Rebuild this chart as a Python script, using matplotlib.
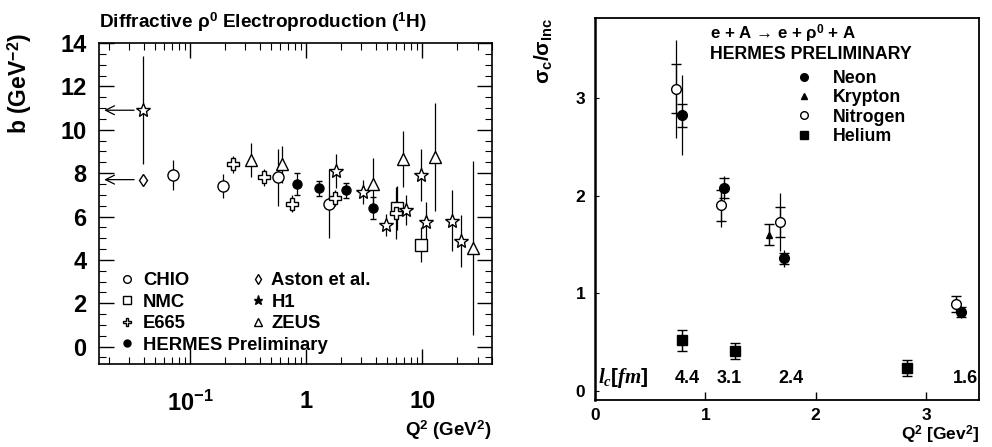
import matplotlib
matplotlib.use("Agg")
import matplotlib.pyplot as plt
import matplotlib.ticker as mticker
from matplotlib.lines import Line2D

plt.rcParams['font.family'] = ['Liberation Sans', 'DejaVu Sans']
plt.rcParams['font.weight'] = 'bold'
plt.rcParams['mathtext.fontset'] = 'custom'
plt.rcParams['mathtext.rm'] = 'Liberation Sans'
plt.rcParams['mathtext.bf'] = 'Liberation Sans:bold'
plt.rcParams['mathtext.it'] = 'Liberation Serif:italic'

# ---------------- left panel data: slope b vs Q^2 ----------------
chio_q2 = [0.071, 0.192, 0.570, 1.58]
chio_b = [7.9, 7.4, 7.8, 6.6]
chio_err = [0.7, 0.55, 1.3, 1.6]

nmc_q2 = [6.05, 9.75]
nmc_b = [6.4, 4.7]
nmc_err = [1.0, 0.8]

e665_q2 = [0.232, 0.431, 0.762, 1.78, 5.97]
e665_b = [8.4, 7.8, 6.6, 6.85, 6.15]
e665_err = [0.4, 0.4, 0.4, 0.35, 1.2]

hermes_q2 = [0.832, 1.29, 2.21, 3.76]
hermes_b = [7.5, 7.3, 7.2, 6.4]
hermes_err = [0.5, 0.35, 0.35, 0.5]

aston_q2 = [0.0395]
aston_b = [7.7]
aston_err = [0.15]

h1_q2 = [0.0395, 1.80, 3.08, 4.89, 7.28, 9.75, 10.9, 18.0, 21.5]
h1_b = [10.9, 8.1, 7.15, 5.6, 6.3, 7.9, 5.75, 5.8, 4.85]
h1_err = [2.5, 0.8, 0.55, 0.5, 0.7, 1.2, 0.9, 1.4, 1.2]

zeus_q2 = [0.336, 0.617, 3.80, 6.81, 12.9, 27.7]
zeus_b = [8.6, 8.4, 7.5, 8.65, 8.75, 4.55]
zeus_err = [0.8, 0.85, 1.2, 1.3, 2.5, 4.0]

# ---------------- right panel data: sigma_c / sigma_inc ----------------
neon_q2 = [0.784, 1.17, 1.717, 3.32]
neon_r = [2.82, 2.075, 1.357, 0.81]
neon_stat = [0.12, 0.1, 0.06, 0.05]
neon_tot = [0.41, 0.12, 0.09, 0.06]

krypton_q2 = [1.577]
krypton_r = [1.60]
krypton_stat = [0.11]
krypton_tot = [0.11]

nitrogen_q2 = [0.735, 1.14, 1.68, 3.27]
nitrogen_r = [3.09, 1.90, 1.73, 0.89]
nitrogen_stat = [0.25, 0.16, 0.15, 0.08]
nitrogen_tot = [0.5, 0.22, 0.3, 0.08]

helium_q2 = [0.784, 1.273, 2.83]
helium_r = [0.52, 0.41, 0.235]
helium_stat = [0.11, 0.085, 0.08]
helium_tot = [0.11, 0.085, 0.08]

lc_labels = ['4.4', '3.1', '2.4', '1.6']
lc_q2 = [0.84, 1.22, 1.78, 3.36]

fig = plt.figure(figsize=(9.92, 4.47), dpi=100)

# ======================= LEFT PANEL =======================
ax = fig.add_axes([99/992, 1-364/447, 393/992, 321/447])
ax.set_xscale('log')
ax.set_xlim(0.0164, 40)
ax.set_ylim(-0.8, 14)

def ebar(q, v, e, marker, ms, mfc='white', capsize=0):
    ax.errorbar(q, v, yerr=e, fmt=marker, ms=ms, mfc=mfc, mec='black',
                mew=1.0, ecolor='black', elinewidth=0.9, capsize=capsize,
                color='black', zorder=3)

ebar(chio_q2, chio_b, chio_err, 'o', 8)
ebar(nmc_q2, nmc_b, nmc_err, 's', 8)
ebar(e665_q2, e665_b, e665_err, 'P', 8.5)
ebar(hermes_q2, hermes_b, hermes_err, 'o', 6.5, mfc='black', capsize=2.5)
ebar(aston_q2, aston_b, aston_err, 'd', 6)
ebar(h1_q2, h1_b, h1_err, '*', 10)
ebar(zeus_q2, zeus_b, zeus_err, '^', 8.5)

# arrows to the y axis for the photoproduction-limit points
for q, b in [(h1_q2[0], h1_b[0]), (aston_q2[0], aston_b[0])]:
    ax.annotate('', xy=(0.0172, b), xytext=(q * 0.88, b),
                arrowprops=dict(arrowstyle='->', color='black', lw=0.9,
                                mutation_scale=16))

ax.set_yticks([0, 2, 4, 6, 8, 10, 12, 14])
ax.yaxis.set_minor_locator(mticker.MultipleLocator(0.5))
ax.set_xticks([0.1, 1, 10])
ax.set_xticklabels([r'$\mathbf{10^{-1}}$', '1', '10'])
ax.xaxis.set_minor_locator(mticker.LogLocator(base=10, subs=range(2, 10), numticks=20))
ax.xaxis.set_minor_formatter(mticker.NullFormatter())
ax.tick_params(which='both', direction='in', top=True, right=True)
ax.tick_params(which='major', length=11, width=1.0)
ax.tick_params(which='minor', length=5, width=0.8)
ax.tick_params(axis='y', which='major', labelsize=17, pad=9)
ax.tick_params(axis='x', which='major', labelsize=17, pad=19)
for lab in ax.get_xticklabels() + ax.get_yticklabels():
    lab.set_fontweight('bold')
for sp in ax.spines.values():
    sp.set_linewidth(1.2)

ax.set_title(r'Diffractive ρ$^{\mathbf{0}}$ Electroproduction ($^{\mathbf{1}}$H)',
             fontsize=13.7, fontweight='bold', loc='left', pad=11)
ax.set_ylabel(r'b (GeV$^{\mathbf{-2}}$)', fontsize=16.5, fontweight='bold', loc='top')
ax.yaxis.set_label_coords(-0.165, 1.031)
ax.set_xlabel(r'Q$^{\mathbf{2}}$ (GeV$^{\mathbf{2}}$)', fontsize=13.5, fontweight='bold',
              loc='right', labelpad=2)

legprops = {'size': 13.3, 'weight': 'bold'}
h_left = [
    Line2D([], [], ls='none', marker='o', ms=5.5, mfc='white', mec='black'),
    Line2D([], [], ls='none', marker='s', ms=5.5, mfc='white', mec='black'),
    Line2D([], [], ls='none', marker='P', ms=6, mfc='white', mec='black'),
    Line2D([], [], ls='none', marker='o', ms=5, mfc='black', mec='black'),
]
leg1 = ax.legend(h_left, ['CHIO', 'NMC', 'E665', 'HERMES Preliminary'],
                 loc='upper left', bbox_to_anchor=(0.053, 0.286), frameon=False,
                 prop=legprops, handlelength=0.8, handletextpad=0.45,
                 labelspacing=0.245, borderaxespad=0, borderpad=0)
ax.add_artist(leg1)
h_right = [
    Line2D([], [], ls='none', marker='d', ms=5, mfc='white', mec='black'),
    Line2D([], [], ls='none', marker='*', ms=6.5, mfc='black', mec='black'),
    Line2D([], [], ls='none', marker='^', ms=5.5, mfc='white', mec='black'),
]
ax.legend(h_right, ['Aston et al.', 'H1', 'ZEUS'],
          loc='upper left', bbox_to_anchor=(0.387, 0.286), frameon=False,
          prop=legprops, handlelength=0.8, handletextpad=0.3,
          labelspacing=0.245, borderaxespad=0, borderpad=0)

# ======================= RIGHT PANEL =======================
ax2 = fig.add_axes([595/992, 1-400/447, 384/992, 382/447])
ax2.set_xlim(0, 3.48)
ax2.set_ylim(-0.09, 3.815)

def ebar2(q, v, tot, stat, marker, ms, mfc):
    ax2.errorbar(q, v, yerr=tot, fmt='none', ecolor='black', elinewidth=0.9,
                 capsize=0, zorder=2)
    ax2.errorbar(q, v, yerr=stat, fmt=marker, ms=ms, mfc=mfc, mec='black',
                 mew=1.0, ecolor='black', elinewidth=0.9, capsize=3.5,
                 capthick=0.9, color='black', zorder=3)

ebar2(neon_q2, neon_r, neon_tot, neon_stat, 'o', 7, 'black')
ebar2(krypton_q2, krypton_r, krypton_tot, krypton_stat, '^', 5, 'black')
ebar2(nitrogen_q2, nitrogen_r, nitrogen_tot, nitrogen_stat, 'o', 7, 'white')
ebar2(helium_q2, helium_r, helium_tot, helium_stat, 's', 6.5, 'black')

ax2.set_xticks([0, 1, 2, 3])
ax2.set_yticks([0, 1, 2, 3])
ax2.tick_params(direction='in', labelsize=12.5)
ax2.tick_params(axis='x', length=6, width=1.0, pad=6)
ax2.tick_params(axis='y', length=3, width=0.8, pad=7)
for lab in ax2.get_xticklabels() + ax2.get_yticklabels():
    lab.set_fontweight('bold')
for sp in ax2.spines.values():
    sp.set_linewidth(1.3)
ax2.spines['left'].set_linewidth(1.8)

ax2.set_ylabel(r'σ$_{\mathbf{c}}$/σ$_{\mathbf{Inc}}$', fontsize=15, fontweight='bold', loc='top')
ax2.yaxis.set_label_coords(-0.107, 1.0)
ax2.set_xlabel(r'Q$^{\mathbf{2}}$ [Gev$^{\mathbf{2}}$]', fontsize=12.5, fontweight='bold',
               loc='right', labelpad=0)

ax2.text(0.30, 0.988, r'e + A → e + ρ$^{\mathbf{0}}$ + A', transform=ax2.transAxes,
         fontsize=12.2, fontweight='bold', va='top', ha='left')
ax2.text(0.30, 0.928, 'HERMES PRELIMINARY', transform=ax2.transAxes,
         fontsize=12.8, fontweight='bold', va='top', ha='left')

h2 = [
    Line2D([], [], ls='none', marker='o', ms=5.5, mfc='black', mec='black'),
    Line2D([], [], ls='none', marker='^', ms=4.5, mfc='black', mec='black'),
    Line2D([], [], ls='none', marker='o', ms=5.5, mfc='white', mec='black'),
    Line2D([], [], ls='none', marker='s', ms=5.5, mfc='black', mec='black'),
]
ax2.legend(h2, ['Neon', 'Krypton', 'Nitrogen', 'Helium'], loc='upper left',
           bbox_to_anchor=(0.526, 0.864), frameon=False,
           prop={'size': 12.8, 'weight': 'bold'}, handlelength=0.8,
           handletextpad=1.2, labelspacing=0.13, borderaxespad=0, borderpad=0)

ax2.text(0.03, 0.13, r'$l_c[fm]$', fontsize=15, va='center', ha='left')
for q, t in zip(lc_q2, lc_labels):
    ax2.text(q, 0.13, t, fontsize=13, fontweight='bold', va='center', ha='center')

fig.savefig('out.png', dpi=100)
